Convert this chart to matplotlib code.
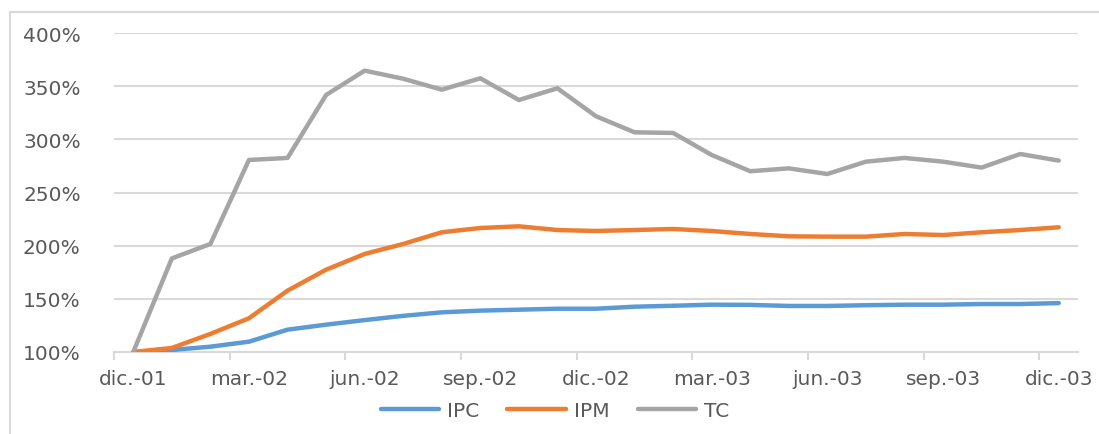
import numpy as np
import matplotlib.pyplot as plt
from matplotlib.patches import Rectangle
from matplotlib.ticker import FuncFormatter

# Series mensuales, dic.-01 = 100%
months = ["dic.-01", "ene.-02", "feb.-02", "mar.-02", "abr.-02", "may.-02", "jun.-02",
          "jul.-02", "ago.-02", "sep.-02", "oct.-02", "nov.-02", "dic.-02",
          "ene.-03", "feb.-03", "mar.-03", "abr.-03", "may.-03", "jun.-03",
          "jul.-03", "ago.-03", "sep.-03", "oct.-03", "nov.-03", "dic.-03"]
ipc = [100, 101.9, 105, 109.7, 121, 125.7, 130, 134, 137.3, 138.9, 139.8, 140.7, 140.7,
       142.6, 143.5, 144.5, 144.3, 143.3, 143.3, 144, 144.5, 144.5, 145.1, 145.1, 146]
ipm = [100, 103.8, 117, 131.7, 157.7, 177.4, 192.2, 201.6, 212.6, 216.6, 218.2, 214.7, 213.8,
       214.7, 215.7, 213.8, 211, 208.8, 208.5, 208.5, 211, 210, 212.6, 214.7, 217.3]
tc = [100, 188, 201.6, 280.6, 282.5, 341.7, 364.6, 357, 346.7, 357.4, 337, 348, 321.7,
      306.6, 306, 285.3, 270, 272.7, 267.4, 279, 282.5, 279, 273.4, 286.2, 280]
series_names = ["IPC", "IPM", "TC"]
colors = ["#5b9bd5", "#ed7d31", "#a5a5a5"]

plt.rcParams['font.family'] = ['DejaVu Sans']

W, H = 1099, 435
fig = plt.figure(figsize=(W / 100, H / 100), dpi=100)
ax = fig.add_axes([114 / W, 1 - 353 / H, (1078 - 114) / W, (353 - 34) / H])

# borde del área del gráfico
fig.patches.append(Rectangle((10 / W, -0.1), 1.2, 1 - 13 / H + 0.1, transform=fig.transFigure,
                             fill=False, edgecolor="#d9d9d9", linewidth=1.5))

x = np.arange(len(months))
for vals, name, c in zip([ipc, ipm, tc], series_names, colors):
    ax.plot(x, vals, color=c, linewidth=3.2, label=name, solid_capstyle='round', zorder=3)

ax.set_xlim(-0.5, len(months) - 0.5)
ax.set_ylim(100, 400)
ax.set_yticks(np.arange(100, 401, 50))
ax.yaxis.set_major_formatter(FuncFormatter(lambda v, p: f"{v:.0f}%"))
ax.grid(axis='y', color="#d9d9d9", linewidth=1.5)
ax.set_axisbelow(True)

ax.set_xticks(x[::3])
ax.set_xticklabels(months[::3])
ax.set_xticks(np.arange(-0.5, len(months) - 1, 3), minor=True)
ax.tick_params(axis='x', which='major', length=0, pad=12, labelsize=14.5, labelcolor="#595959")
ax.tick_params(axis='x', which='minor', length=6, width=1.5, color="#d9d9d9")
ax.tick_params(axis='y', length=0, pad=24, labelsize=14.5, labelcolor="#595959")

for s in ["top", "right", "left"]:
    ax.spines[s].set_visible(False)
ax.spines["bottom"].set_color("#d9d9d9")
ax.spines["bottom"].set_linewidth(1.5)

leg = fig.legend(loc="center", bbox_to_anchor=(555 / W, 1 - 412 / H), ncol=3, frameon=False,
                 fontsize=14.5, handlelength=2.9, columnspacing=1.4, handletextpad=0.4)
for t in leg.get_texts():
    t.set_color("#595959")
for h in leg.legend_handles:
    h.set_solid_capstyle('round')

fig.savefig("out.png", dpi=100)
